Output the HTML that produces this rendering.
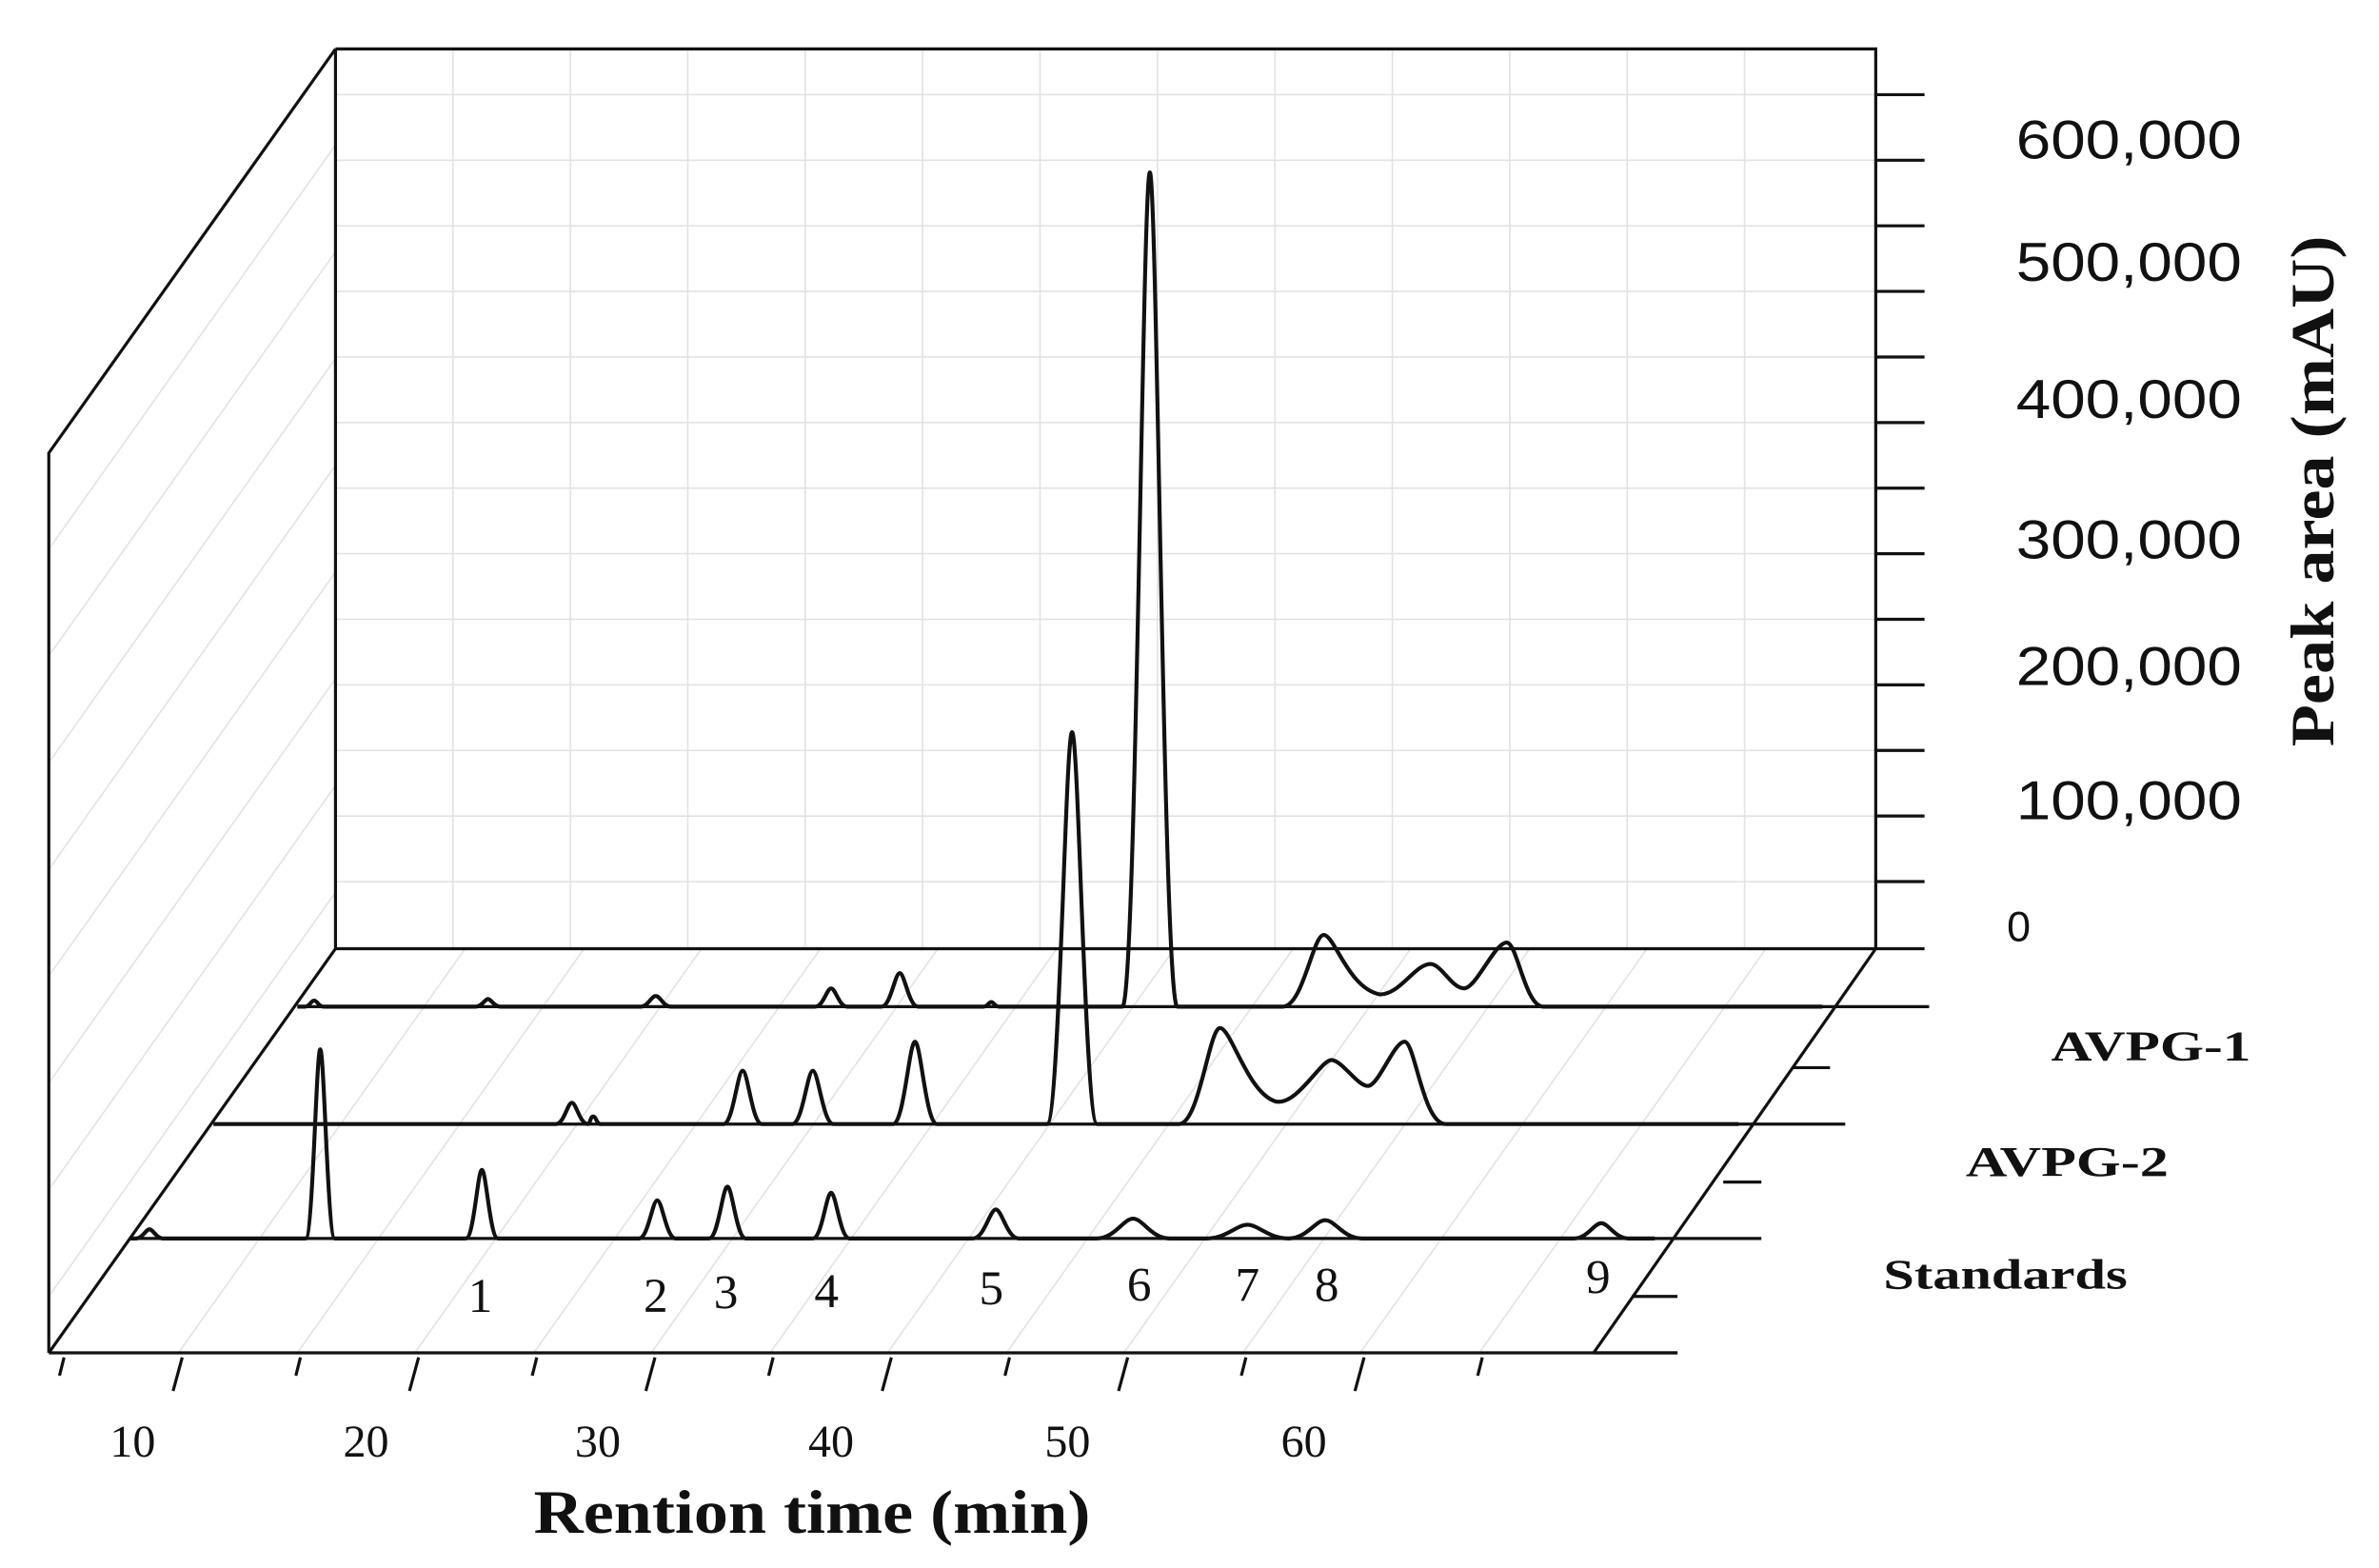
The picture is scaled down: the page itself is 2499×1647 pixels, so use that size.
<!DOCTYPE html>
<html><head><meta charset="utf-8"><style>
html,body{margin:0;padding:0;background:#fff;}
svg{display:block;}
</style></head><body>
<svg width="2499" height="1647" viewBox="0 0 1560 1028" xmlns="http://www.w3.org/2000/svg">
<rect width="1560" height="1028" fill="#fff"/>
<g stroke="#e2e2e2" stroke-width="1" fill="none">
<path d="M220,62H1230M220,105H1230M220,148H1230M220,191H1230M220,234H1230M220,277H1230M220,320H1230M220,363H1230M220,406H1230M220,449H1230M220,492H1230M220,535H1230M220,578H1230"/>
<path d="M297,32V622M374,32V622M451,32V622M528,32V622M605,32V622M682,32V622M759,32V622M836,32V622M913,32V622M990,32V622M1067,32V622M1144,32V622"/>
<path d="M117,887L305,622M195,887L383,622M272,887L460,622M350,887L538,622M427,887L615,622M505,887L693,622M582,887L770,622M660,887L848,622M737,887L925,622M815,887L1003,622M892,887L1080,622M970,887L1158,622"/>
<path d="M32,360L220,95M32,430L220,165M32,500L220,235M32,570L220,305M32,640L220,375M32,710L220,445M32,780L220,515M32,850L220,585"/>
</g>
<g stroke="#111" stroke-width="2" fill="none">
<path d="M220,32H1230V622M220,32V622M220,32L32,297V887M32,887L220,622M32,887H1100M1230,622L1045,887M220,622H1230"/>
<path d="M195,660H1265M140,737H1210M85,812H1155M1045,887H1100"/>
<path d="M1175,700H1200M1130,775H1155M1070,850H1100"/>
<path d="M1230,62H1262M1230,105H1262M1230,148H1262M1230,191H1262M1230,234H1262M1230,277H1262M1230,320H1262M1230,363H1262M1230,406H1262M1230,449H1262M1230,492H1262M1230,535H1262M1230,578H1262M1230,622H1262"/>
<path d="M42,890L39,902M119.5,890L113.5,912M197,890L194,902M274.5,890L268.5,912M352,890L349,902M429.5,890L423.5,912M507,890L504,902M584.5,890L578.5,912M662,890L659,902M739.5,890L733.5,912M817,890L814,902M894.5,890L888.5,912M972,890L969,902"/>
</g>
<g stroke="#111" stroke-width="2.6" fill="none" stroke-linejoin="round">
<path d="M85,812 L89,812 C93.5,812 95.6,806 98,806 C100.4,806 102.5,812 107,812 L200.4,812 C205.2,812 207.4,688 210,688 C212.6,688 214.8,812 219.6,812 L305.5,812 C310.8,812 313.2,767 316,767 C318.8,767 321.3,812 326.5,812 L419,812 C425,812 427.8,787 431,787 C434.2,787 437,812 443,812 L465,812 C471,812 473.8,778 477,778 C480.2,778 483,812 489,812 L533,812 C539,812 541.8,782 545,782 C548.2,782 551,812 557,812 L638,812 C645.5,812 649,793 653,793 C657,793 660.5,812 668,812 L719,812 C731,812 736.6,799 743,799 C749.4,799 755,812 767,812 L791,812 C804.5,812 810.8,803 818,803 C825.2,803 831.5,812 845,812 C857,812 862.6,800 869,800 C875.4,800 881,812 893,812 L1032,812 C1041,812 1045.2,802 1050,802 C1054.8,802 1059,812 1068,812 L1085,812"/>
<path d="M140,737 L364.5,737 C369.8,737 372.2,723 375,723 C377.8,723 380.3,737 385.5,737 C387,737 387,732 389,732 C391,732 391,737 394,737 L474.4,737 C480.7,737 483.6,702 487,702 C490.4,702 493.3,737 499.6,737 L519.5,737 C526.3,737 529.4,702 533,702 C536.6,702 539.8,737 546.5,737 L585.6,737 C592.8,737 596.2,683 600,683 C603.8,683 607.2,737 614.4,737 L686.5,737 C694.8,737 698.6,480 703,480 C707.4,480 711.3,737 719.5,737 L773,737 C786.5,737 792.8,674 800,674 C807.2,674 818,716 836,722 C850,726 866,695 873,695 C880,695 890,712 897,712 C904,712 914,683 921,683 C928,683 933,737 948,737 L1140,737"/>
<path d="M195,660 L200,660 C203,660 204,656 206,656 C208,656 209,660 212,660 L312,660 C316,660 318,655 320,655 C322,655 324,660 328,660 L420,660 C425,660 427,653 430,653 C433,653 435,660 440,660 L534.5,660 C539.8,660 542.2,648 545,648 C547.8,648 550.3,660 555.5,660 L578,660 C584,660 586.8,638 590,638 C593.2,638 596,660 602,660 L645,660 C648,660 648,657 650,657 C652,657 652,660 655,660 L736,660 C745,660 749.2,113 754,113 C758.8,113 763,660 772,660 L841,660 C854.5,660 860.8,613 868,613 C875.2,613 884,648 905,652 C918,652 928,632 938,632 C945,632 952,648 960,648 C968,648 980,618 988,618 C995,618 1000,660 1012,660 L1195,660"/>
</g>
<g font-family="Liberation Sans, sans-serif" font-size="36" fill="#111">
<text x="1322" y="104" textLength="148" lengthAdjust="spacingAndGlyphs">600,000</text>
<text x="1322" y="184" textLength="148" lengthAdjust="spacingAndGlyphs">500,000</text>
<text x="1322" y="274" textLength="148" lengthAdjust="spacingAndGlyphs">400,000</text>
<text x="1322" y="366" textLength="148" lengthAdjust="spacingAndGlyphs">300,000</text>
<text x="1322" y="449" textLength="148" lengthAdjust="spacingAndGlyphs">200,000</text>
<text x="1322" y="537" textLength="148" lengthAdjust="spacingAndGlyphs">100,000</text>
<text x="1316" y="617" font-size="28">0</text>
</g>
<text transform="translate(1530,322) rotate(-90)" font-family="Liberation Serif, serif" font-weight="bold" font-size="40" text-anchor="middle" fill="#111" textLength="335" lengthAdjust="spacingAndGlyphs">Peak area (mAU)</text>
<g font-family="Liberation Serif, serif" font-weight="bold" font-size="28" fill="#111">
<text x="1345" y="695" textLength="131" lengthAdjust="spacingAndGlyphs">AVPG-1</text>
<text x="1289" y="771" textLength="133" lengthAdjust="spacingAndGlyphs">AVPG-2</text>
<text x="1235" y="845" textLength="160" lengthAdjust="spacingAndGlyphs">Standards</text>
</g>
<g font-family="Liberation Serif, serif" font-size="32" fill="#111" text-anchor="middle">
<text x="315" y="860">1</text><text x="430" y="860">2</text><text x="476" y="858">3</text>
<text x="542" y="857">4</text><text x="650" y="855">5</text><text x="747" y="853">6</text>
<text x="818" y="853">7</text><text x="870" y="853">8</text><text x="1048" y="848">9</text>
</g>
<g font-family="Liberation Serif, serif" font-size="30" fill="#111" text-anchor="middle">
<text x="87" y="955">10</text><text x="240" y="955">20</text><text x="392" y="955">30</text>
<text x="545" y="955">40</text><text x="700" y="955">50</text><text x="855" y="955">60</text>
</g>
<text x="350" y="1005" font-family="Liberation Serif, serif" font-weight="bold" font-size="40" fill="#111" textLength="365" lengthAdjust="spacingAndGlyphs">Rention time (min)</text>
</svg>
</body></html>
